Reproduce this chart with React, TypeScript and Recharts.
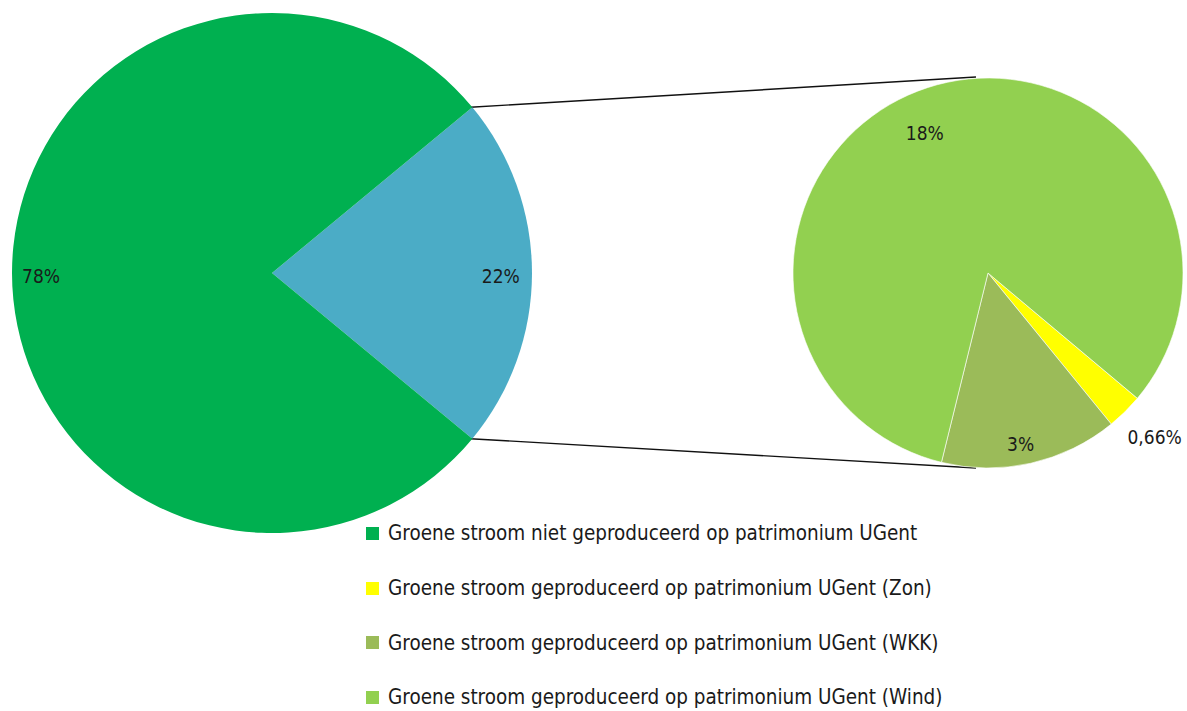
import { Cell, Customized, Pie, PieChart } from "recharts";

// main pie
const mainNames = ["Groene stroom geproduceerd op patrimonium UGent", "Groene stroom niet geproduceerd op patrimonium UGent"];
const mainValues = [22, 78];
const mainLabels = ["22%", "78%"];
const mainColors = ["#4BACC6", "#00B050"];

// second pie (split of the 22%)
const subNames = ["Zon", "WKK", "Wind"];
const subValues = [0.66, 3.24, 18.1];
const subLabels = ["0,66%", "3%", "18%"];
const subColors = ["#FFFF00", "#9BBB59", "#92D050"];

const legendLabels = [
  "Groene stroom niet geproduceerd op patrimonium UGent",
  "Groene stroom geproduceerd op patrimonium UGent (Zon)",
  "Groene stroom geproduceerd op patrimonium UGent (WKK)",
  "Groene stroom geproduceerd op patrimonium UGent (Wind)",
];
const legendColors = ["#00B050", "#FFFF00", "#9BBB59", "#92D050"];

const FONT = '"DejaVu Sans Condensed", "Liberation Sans Narrow", sans-serif';
const W = 1187;
const H = 711;

const C1 = { cx: 272, cy: 273, r: 260 };
const C2 = { cx: 988, cy: 273, r: 195 };

const mainData = mainNames.map((name, i) => ({ name, value: mainValues[i], label: mainLabels[i] }));
const subData = subNames.map((name, i) => ({ name, value: subValues[i], label: subLabels[i] }));

// half opening of the exploded slice
const totalMain = mainValues.reduce((a, b) => a + b, 0);
const halfAngle = (mainValues[0] / totalMain) * 180;

const RAD = Math.PI / 180;

// radius factor + angle tweak per slice, like excel's "best fit"
const makeLabel = (factors: number[], shifts: number[]) => (props: any) => {
  const { cx, cy, midAngle, outerRadius, index, payload } = props;
  const r = outerRadius * factors[index];
  const a = (midAngle + shifts[index]) * RAD;
  const x = cx + r * Math.cos(-a);
  const y = cy + r * Math.sin(-a) + 3;
  return (
    <text x={x} y={y} textAnchor="middle" dominantBaseline="central" fontSize={19} fill="#1a1a1a" fontFamily={FONT}>
      {payload.label}
    </text>
  );
};

const Connectors = () => {
  const x1 = C1.cx + C1.r * Math.cos(halfAngle * RAD);
  const dy = C1.r * Math.sin(halfAngle * RAD);
  const x2 = C2.cx - 12;
  return (
    <g stroke="#111" strokeWidth={1.4}>
      <line x1={x1 - 2} y1={C1.cy - dy} x2={x2} y2={C2.cy - C2.r - 1} />
      <line x1={x1 - 2} y1={C1.cy + dy} x2={x2} y2={C2.cy + C2.r} />
    </g>
  );
};

export default function App() {
  return (
    <div style={{ position: "relative", width: W, height: H, background: "#fff", fontFamily: FONT }}>
      <style>{"body{margin:0}"}</style>
      <PieChart width={W} height={H} margin={{ top: 0, right: 0, bottom: 0, left: 0 }}>
        <Pie
          data={mainData}
          dataKey="value"
          cx={C1.cx}
          cy={C1.cy}
          outerRadius={C1.r}
          startAngle={halfAngle}
          endAngle={halfAngle - 360}
          stroke="none"
          labelLine={false}
          label={makeLabel([0.88, 0.888], [0, 0])}
          isAnimationActive={false}
        >
          {mainData.map((d, i) => (
            <Cell key={d.name} fill={mainColors[i]} />
          ))}
        </Pie>
        <Pie
          data={subData}
          dataKey="value"
          cx={C2.cx}
          cy={C2.cy}
          outerRadius={C2.r}
          startAngle={-40}
          endAngle={-400}
          stroke="#fff"
          strokeWidth={0.6}
          labelLine={false}
          label={makeLabel([1.19, 0.877, 0.8], [1.3, -1.7, 5.8])}
          isAnimationActive={false}
        >
          {subData.map((d, i) => (
            <Cell key={d.name} fill={subColors[i]} />
          ))}
        </Pie>
        <Customized component={Connectors} />
      </PieChart>
      <div style={{ position: "absolute", left: 366, top: 506 }}>
        {legendLabels.map((t, i) => (
          <div key={t} style={{ display: "flex", alignItems: "center", height: 54.7, fontSize: 22, color: "#1a1a1a", whiteSpace: "nowrap" }}>
            <span style={{ width: 13, height: 13, background: legendColors[i], marginRight: 9, flex: "none" }} />
            <span style={{ display: "inline-block", transform: "scaleX(0.93)", transformOrigin: "left center", lineHeight: "24px" }}>{t}</span>
          </div>
        ))}
      </div>
    </div>
  );
}
